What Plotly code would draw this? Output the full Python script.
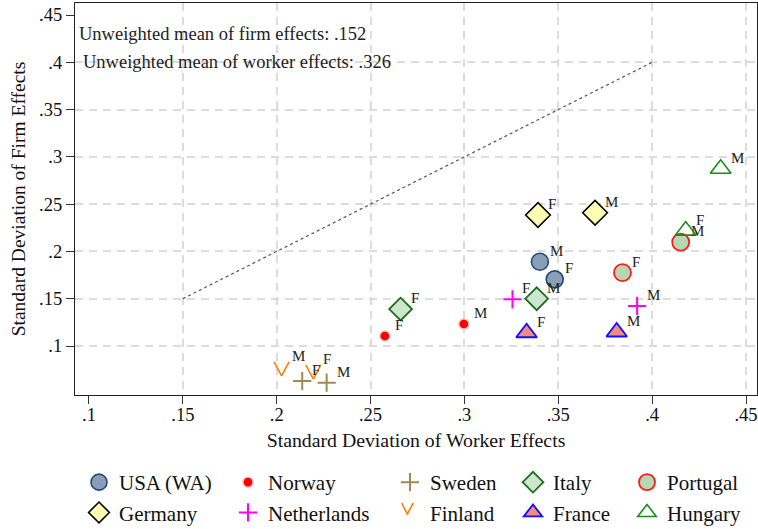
import plotly.graph_objects as go

# ---------------- data ----------------
countries = ["USA (WA)", "Norway", "Sweden", "Italy", "Portugal",
             "Germany", "Netherlands", "Finland", "France", "Hungary"]
# standard deviation of worker effects (x) and firm effects (y), females / males
worker_sd_F = [0.3481, 0.2576, 0.2136, 0.2660, 0.3842, 0.3392, 0.3256, 0.2195, 0.3331, 0.4179]
firm_sd_F   = [0.1705, 0.1106, 0.0630, 0.1391, 0.1775, 0.2385, 0.1494, 0.0746, 0.1140, 0.2220]
worker_sd_M = [0.3402, 0.2997, 0.2266, 0.3385, 0.4152, 0.3696, 0.3920, 0.2026, 0.3811, 0.4365]
firm_sd_M   = [0.1891, 0.1233, 0.0612, 0.1500, 0.2099, 0.2409, 0.1423, 0.0780, 0.1148, 0.2875]

diag_x = [0.15, 0.40]
diag_y = [0.15, 0.40]

x_ticks = [0.10, 0.15, 0.20, 0.25, 0.30, 0.35, 0.40, 0.45]
x_labels = [".1", ".15", ".2", ".25", ".3", ".35", ".4", ".45"]
y_ticks = [0.10, 0.15, 0.20, 0.25, 0.30, 0.35, 0.40, 0.45]
y_labels = [".1", ".15", ".2", ".25", ".3", ".35", ".4", ".45"]

note_lines = ["Unweighted mean of firm effects: .152",
              "Unweighted mean of worker effects: .326"]

# ---------------- styles ----------------
FONT = "Liberation Serif"
styles = {
    "USA (WA)":    dict(symbol="circle", size=17, color="#8a9fb7", lc="#1f4a75", lw=1.6, legend="legend"),
    "Germany":     dict(symbol="diamond", size=19, color="#ffffb4", lc="#000000", lw=1.6, legend="legend"),
    "Norway":      dict(symbol="circle", size=10, color="#ff0000", lc="#ffb8b8", lw=1.4, legend="legend2"),
    "Netherlands": dict(symbol="cross-thin", size=13, color="#ff00ff", lc="#ff00ff", lw=2, legend="legend2"),
    "Sweden":      dict(symbol="cross-thin", size=13, color="#a08a50", lc="#a08a50", lw=2, legend="legend3"),
    "Finland":     dict(symbol="line-ew", size=11.4, color="#ff8000", lc="#ff8000", lw=1.6, legend="legend3"),
    "Italy":       dict(symbol="diamond", size=17.5, color="#cde6cd", lc="#1e6b1e", lw=1.8, legend="legend4"),
    "France":      dict(symbol="triangle-up", size=18, color="#f58a85", lc="#1010ff", lw=1.8, legend="legend4"),
    "Portugal":    dict(symbol="circle", size=17, color="#b3d8b3", lc="#ff1a1a", lw=1.8, legend="legend5"),
    "Hungary":     dict(symbol="triangle-up-open", size=18, color="#1a8a1a", lc="#1a8a1a", lw=1.6, legend="legend5"),
}
legend_order = ["USA (WA)", "Germany", "Norway", "Netherlands", "Sweden", "Finland",
                "Italy", "France", "Portugal", "Hungary"]
draw_order = ["Sweden", "Finland", "Norway", "Italy", "France", "Netherlands",
              "USA (WA)", "Germany", "Portugal", "Hungary"]

fig = go.Figure()

# dotted 45-degree line
fig.add_trace(go.Scatter(x=diag_x, y=diag_y, mode="lines",
                         line=dict(color="#555555", width=1.2, dash="dot"),
                         showlegend=False, hoverinfo="skip"))

for c in draw_order:
    i = countries.index(c)
    st = styles[c]
    xs = [worker_sd_F[i], worker_sd_M[i]]
    ys = [firm_sd_F[i], firm_sd_M[i]]
    if c == "Finland":
        # "V" marker made of two rotated strokes
        for ang in (62, 298):
            fig.add_trace(go.Scatter(
                x=xs, y=ys, mode="markers", name=c, showlegend=False,
                marker=dict(symbol=st["symbol"], size=st["size"], angle=ang, standoff=4.25,
                            color=st["color"], line=dict(color=st["lc"], width=st["lw"])),
                cliponaxis=False, hoverinfo="x+y+name"))
    else:
        fig.add_trace(go.Scatter(
            x=xs, y=ys, mode="markers", name=c, showlegend=False,
            marker=dict(symbol=st["symbol"], size=st["size"], color=st["color"],
                        line=dict(color=st["lc"], width=st["lw"])),
            cliponaxis=False))

# legend entries (no data, only keys)
for c in legend_order:
    st = styles[c]
    if c == "Finland":
        mk = dict(symbol="line-ew", size=10, color="rgba(0,0,0,0)",
                  line=dict(color="rgba(0,0,0,0)", width=0))
    else:
        mk = dict(symbol=st["symbol"], size=st["size"], color=st["color"],
                  line=dict(color=st["lc"], width=st["lw"]))
    fig.add_trace(go.Scatter(x=[None], y=[None], mode="markers", name=c,
                             legend=st["legend"], marker=mk, hoverinfo="skip"))

# "V" legend key for Finland
fig.add_shape(type="path", xref="paper", yref="paper",
              path="M 0.4790,-0.2755 L 0.4872,-0.3036 L 0.4960,-0.2755",
              line=dict(color="#ff8000", width=1.6))

# F / M labels
annotations = []
for i, c in enumerate(countries):
    for lab, xv, yv in (("F", worker_sd_F[i], firm_sd_F[i]), ("M", worker_sd_M[i], firm_sd_M[i])):
        annotations.append(dict(x=xv, y=yv, xref="x", yref="y", text=lab, showarrow=False,
                                xanchor="left", yanchor="middle", xshift=8, yshift=11,
                                font=dict(family=FONT, size=15, color="#222222")))

# note texts
annotations.append(dict(x=0.0029, y=0.921, xref="paper", yref="paper", text=note_lines[0],
                        showarrow=False, xanchor="left", yanchor="middle",
                        font=dict(family=FONT, size=18.5, color="#222222")))
annotations.append(dict(x=0.0088, y=0.8495, xref="paper", yref="paper", text=note_lines[1],
                        showarrow=False, xanchor="left", yanchor="middle",
                        font=dict(family=FONT, size=18.5, color="#222222")))

# invisible trace to host grid axes
fig.add_trace(go.Scatter(x=[None], y=[None], xaxis="x2", yaxis="y2",
                         showlegend=False, hoverinfo="skip"))

xr = [0.09255, 0.45586]
yr = [0.0482, 0.4627]
grid = dict(showgrid=True, gridcolor="#dcdcdc", gridwidth=1.5, griddash="8px,6px",
            showticklabels=False, ticks="", showline=False, zeroline=False)

legend_common = dict(orientation="v", xanchor="left", yanchor="top", y=-0.1709,
                     bgcolor="rgba(0,0,0,0)", font=dict(family=FONT, size=21, color="#111111"),
                     tracegroupgap=0, itemclick=False, itemdoubleclick=False)
col_left = [79, 228, 390, 513, 627]
pw = 682.0

fig.update_layout(
    width=758, height=529,
    margin=dict(l=75, r=1, t=3, b=134, autoexpand=False),
    paper_bgcolor="white", plot_bgcolor="white",
    font=dict(family=FONT, color="#111111"),
    xaxis=dict(range=xr, tickvals=x_ticks, ticktext=x_labels, ticks="outside", ticklen=8,
               tickwidth=1.2, tickcolor="#333333", showline=True, mirror=True,
               linecolor="#222222", linewidth=1.3, showgrid=False, zeroline=False,
               ticklabelstandoff=-5,
               tickfont=dict(family=FONT, size=18.5, color="#111111"),
               title=dict(text="Standard Deviation of Worker Effects", standoff=8,
                          font=dict(family=FONT, size=19.8, color="#111111"))),
    yaxis=dict(range=yr, tickvals=y_ticks, ticktext=y_labels, ticks="outside", ticklen=8,
               tickwidth=1.2, tickcolor="#333333", showline=True, mirror=True,
               linecolor="#222222", linewidth=1.3, showgrid=False, zeroline=False,
               tickfont=dict(family=FONT, size=18.5, color="#111111"),
               title=dict(text="Standard Deviation of Firm Effects", standoff=8,
                          font=dict(family=FONT, size=19.5, color="#111111"))),
    xaxis2=dict(overlaying="x", anchor="y", range=xr, tickvals=x_ticks[1:], **grid),
    yaxis2=dict(overlaying="y", anchor="x", range=yr, tickvals=y_ticks[:-1], **grid),
    annotations=annotations,
    legend=dict(x=(col_left[0] - 75) / pw, **legend_common),
    legend2=dict(x=(col_left[1] - 75) / pw, **legend_common),
    legend3=dict(x=(col_left[2] - 75) / pw, **legend_common),
    legend4=dict(x=(col_left[3] - 75) / pw, **legend_common),
    legend5=dict(x=(col_left[4] - 75) / pw, **legend_common),
)

fig.write_html("out.html")
